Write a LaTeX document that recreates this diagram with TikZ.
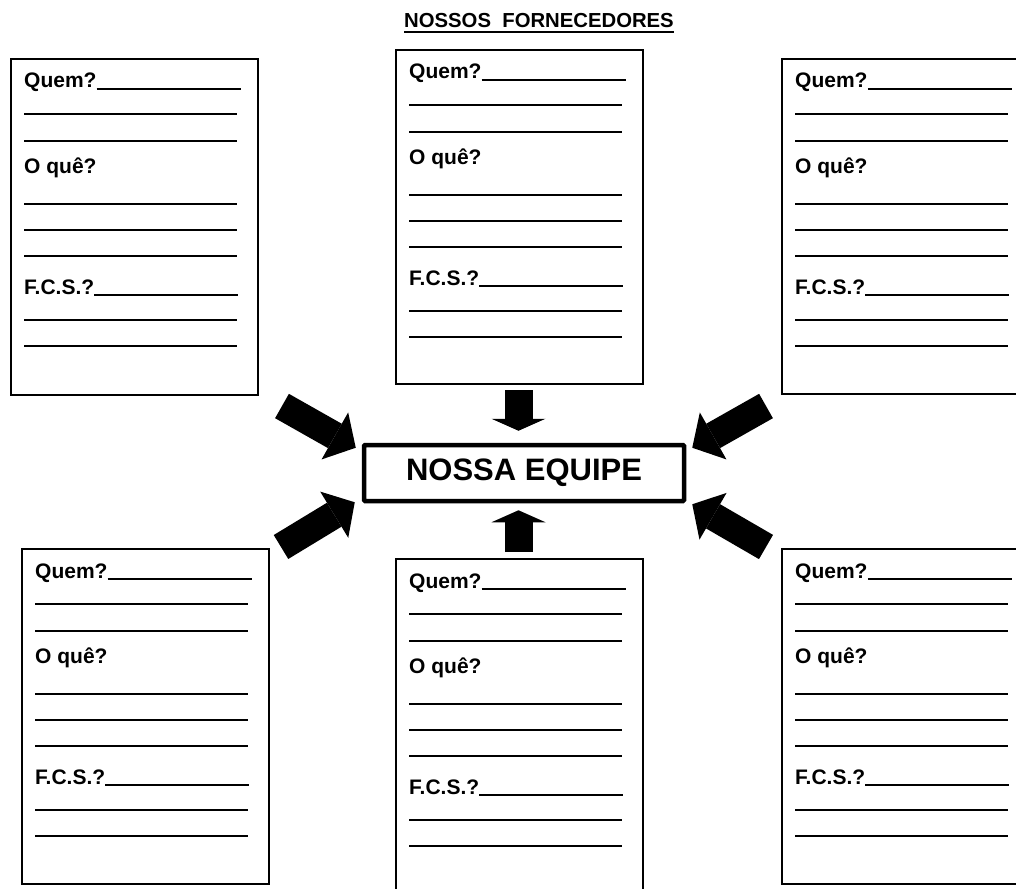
\documentclass[tikz,border=0pt]{standalone}
\usepackage{fontspec}
\setmainfont{Liberation Sans}
\usetikzlibrary{arrows.meta}
\usetikzlibrary{calc}
\usetikzlibrary{positioning}
\tikzset{
    ficha/.style = {draw=black, line width=2pt, minimum width=247pt,
        inner sep=0pt, anchor=north west},% folha de fornecedor
    rotulo/.style = {font=\bfseries\fontsize{21}{24}\selectfont,
        anchor=base west, inner sep=0pt},% Quem? / O que? / F.C.S.?
    linha/.style = {line width=2.8pt},% linha para escrever
    equipe_n/.style = {draw=black, line width=4.5pt, rounded corners=1pt,
        minimum width=320pt, minimum height=56pt, inner sep=0pt,
        font=\bfseries\fontsize{31}{34}\selectfont},
    seta_v/.style = {line width=28pt, -{Triangle[width=54pt, length=12pt, line width=0pt]}},
    seta_d/.style = {line width=28pt, -{Triangle[width=54pt, length=24pt, line width=0pt]}},
}
\begin{document}
\begin{tikzpicture}[x=1pt,y=-1pt]
\useasboundingbox (0,0) rectangle (1016,888);
\node [font=\bfseries\fontsize{20.3}{24}\selectfont, inner sep=0pt, anchor=base]
    (titulo) at (539,28) {NOSSOS\ \ FORNECEDORES};
\draw [line width=2.2pt] ([yshift=-4pt]titulo.base west) -- ([yshift=-4pt]titulo.base east);
% as seis folhas
\foreach \n/\px/\py/\h in {1/10/58/336, 2/395/49/334, 3/781/58/335,
    4/21/548/335, 5/395/558/340, 6/781/548/335}{
    \node [ficha, minimum height=\h] (f\n) at (\px,\py) {};
    \node [rotulo] (q\n) at ($(f\n.north west)+(14,30)$) {Quem?};
    \node [rotulo] (o\n) at ($(f\n.north west)+(14,115)$) {O quê?};
    \node [rotulo] (c\n) at ($(f\n.north west)+(14,236)$) {F.C.S.?};
    \draw [linha] ([yshift=-1pt]q\n.base east) -- ++(144,0);
    \draw [linha] ([yshift=-1pt]c\n.base east) -- ++(144,0);
    \foreach \yy in {56,83,146,172,198,262,288}
        \draw [linha] ($(f\n.north west)+(14,\yy)$) -- ++(213,0);
}
\node [equipe_n] (equipe) at (524,473) {NOSSA EQUIPE};
% setas
\coordinate (cima) at (518.5,390);
\coordinate (baixo) at (518.5,552);
\coordinate (se) at (282,406);
\coordinate (si) at (281,547);
\coordinate (de) at (766,406);
\coordinate (di) at (766,547);
\draw [seta_v, shorten >=12pt] (cima) -- (cima |- equipe.north);
\draw [seta_v, shorten >=7pt] (baixo) -- (baixo |- equipe.south);
\draw [seta_d] (se) -- ($(equipe.north west)+(-6,5)$);
\draw [seta_d] (si) -- ($(equipe.south west)+(-7,-1)$);
\draw [seta_d] (de) -- ($(equipe.north east)+(6,5)$);
\draw [seta_d] (di) -- ($(equipe.south east)+(6,1)$);
\end{tikzpicture}
\end{document}
